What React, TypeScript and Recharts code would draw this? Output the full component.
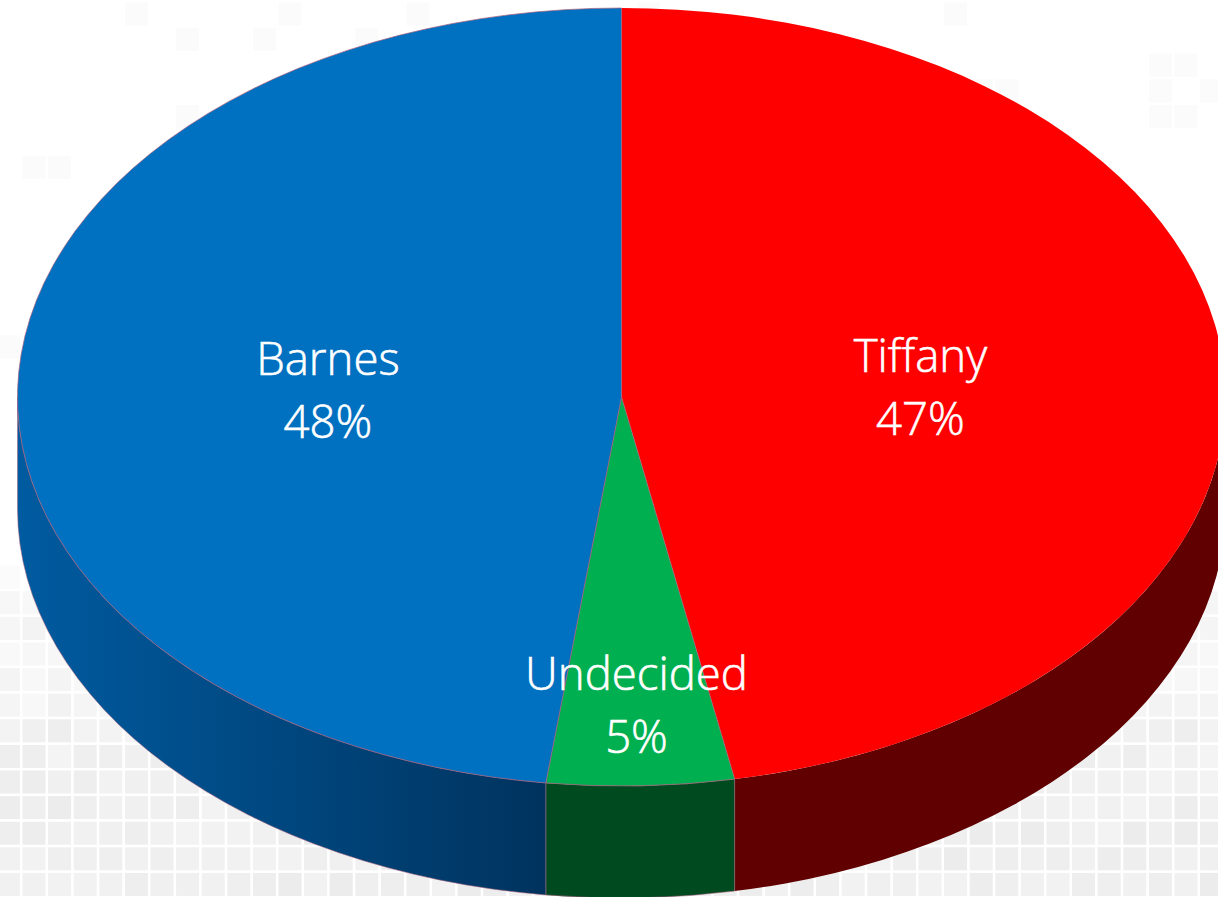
import { PieChart, Pie, Cell } from 'recharts';

const NAMES = ['Tiffany', 'Undecided', 'Barnes'];
const SHARES = [47, 5, 48];
const TOP_COLORS = ['#ff0000', '#00b050', '#0070c0'];
const SIDE_LEFT = ['#600000', '#004a20', '#005ba0'];
const SIDE_RIGHT = ['#600000', '#004a20', '#00335e'];
const LABEL_RADIUS = [0.497, 0.79, 0.487];
const LABEL_SHIFT = [-7, -14, -10];

const data = NAMES.map((name, i) => ({ name, value: SHARES[i] }));

const W = 1218;
const H = 897;
const CX = 621.5;
const CY = 397;
const RADIUS = 604;
const SQUASH = 389 / 604; // tilt of the disc
const DEPTH = 112;
const EDGE = '#a8607c';
const FONT = '"Open Sans", "Noto Sans", sans-serif';

const pt = (cx: number, cy: number, r: number, deg: number) => {
  const a = (deg * Math.PI) / 180;
  return [cx + r * Math.cos(a), cy - r * SQUASH * Math.sin(a)];
};

function TopSlice(props: any) {
  const { cx, cy, outerRadius: r, startAngle, endAngle, fill } = props;
  const [x1, y1] = pt(cx, cy, r, startAngle);
  const [x2, y2] = pt(cx, cy, r, endAngle);
  const large = Math.abs(startAngle - endAngle) > 180 ? 1 : 0;
  const d = `M${cx},${cy}L${x1},${y1}A${r},${r * SQUASH} 0 ${large} 1 ${x2},${y2}Z`;
  return <path d={d} fill={fill} stroke={EDGE} strokeWidth={1} strokeOpacity={fill === '#ff0000' ? 0 : 0.7} />;
}

// wall under the front half of the disc, only the part of a slice with an angle below 0 shows
function SideSlice(props: any) {
  const { cx, cy, outerRadius: r, startAngle, endAngle, name } = props;
  const i = NAMES.indexOf(name);
  const from = Math.min(startAngle, 0);
  const to = Math.max(endAngle, -180);
  if (from <= to) return <g />;
  const [x1, y1] = pt(cx, cy, r, from);
  const [x2, y2] = pt(cx, cy, r, to);
  const ry = r * SQUASH;
  const d = `M${x1},${y1}A${r},${ry} 0 0 1 ${x2},${y2}L${x2},${y2 + DEPTH}A${r},${ry} 0 0 0 ${x1},${y1 + DEPTH}Z`;
  const id = `side-${i}`;
  return (
    <g>
      <defs>
        <linearGradient id={id} x1="0" y1="0" x2="1" y2="0">
          <stop offset="0" stopColor={SIDE_LEFT[i]} />
          <stop offset="1" stopColor={SIDE_RIGHT[i]} />
        </linearGradient>
      </defs>
      <path d={d} fill={`url(#${id})`} stroke={EDGE} strokeWidth={1} strokeOpacity={i === 0 ? 0 : 0.55} />
    </g>
  );
}

function SliceLabel(props: any) {
  const { cx, cy, outerRadius: r, midAngle, name, value } = props;
  const i = NAMES.indexOf(name);
  const [x, y] = pt(cx, cy, r * LABEL_RADIUS[i], midAngle);
  return (
    <text
      x={x}
      y={y + LABEL_SHIFT[i]}
      textAnchor="middle"
      fill="#fff"
      stroke="#fff"
      strokeWidth={0.6}
      fontFamily={FONT}
      fontSize={45.5}
      fontWeight={300}
    >
      <tspan x={x}>{name}</tspan>
      <tspan x={x} dy={63}>{`${value}%`}</tspan>
    </text>
  );
}

// faint tiled backdrop, denser toward the bottom
function Backdrop() {
  const cells = [];
  const pitch = 25.6;
  for (let row = -1; row < 36; row++) {
    for (let col = -1; col < 49; col++) {
      const x = col * pitch + 22.5;
      const y = row * pitch + 2.5;
      const h = Math.sin(col * 127.1 + row * 311.7) * 43758.5;
      const rnd = h - Math.floor(h);
      let shade = 255;
      if (y > 700) shade = 245 - rnd * 7 - (y - 700) / 60;
      else if (y > 590) shade = 251 - rnd * 8 - (y - 590) / 40;
      else if (rnd > 0.9) shade = 251;
      if (shade >= 255) continue;
      const v = Math.round(shade);
      cells.push(<rect key={`${row}-${col}`} x={x} y={y} width={23} height={23} fill={`rgb(${v},${v},${v})`} />);
    }
  }
  return (
    <svg width={W} height={H} style={{ position: 'absolute', left: 0, top: 0 }}>
      <rect width={W} height={H} fill="#fff" />
      {cells}
    </svg>
  );
}

export default function App() {
  return (
    <div style={{ position: 'absolute', left: 0, top: 0, width: W, height: H, overflow: 'hidden', background: '#fff' }}>
      <Backdrop />
      <div style={{ position: 'absolute', left: 0, top: 0 }}>
        <PieChart width={W} height={H} margin={{ top: 0, right: 0, bottom: 0, left: 0 }}>
          <Pie
            data={data}
            dataKey="value"
            nameKey="name"
            cx={CX}
            cy={CY}
            outerRadius={RADIUS}
            startAngle={90}
            endAngle={-270}
            shape={SideSlice}
            label={false}
            labelLine={false}
            isAnimationActive={false}
          />
          <Pie
            data={data}
            dataKey="value"
            nameKey="name"
            cx={CX}
            cy={CY}
            outerRadius={RADIUS}
            startAngle={90}
            endAngle={-270}
            shape={TopSlice}
            label={SliceLabel}
            labelLine={false}
            isAnimationActive={false}
          >
            {data.map((d, i) => (
              <Cell key={d.name} fill={TOP_COLORS[i]} />
            ))}
          </Pie>
        </PieChart>
      </div>
    </div>
  );
}
